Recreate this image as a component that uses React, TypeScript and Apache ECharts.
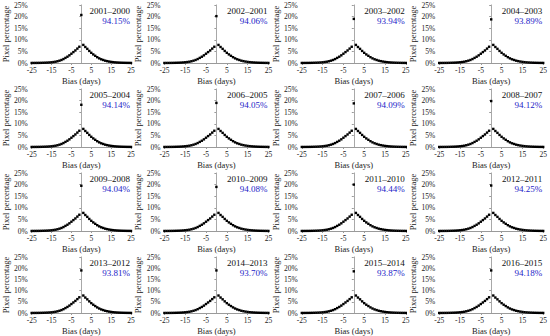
import React, { useEffect, useRef } from "react";
import * as echarts from "echarts";

const periods = [
  "2001–2000", "2002–2001", "2003–2002", "2004–2003",
  "2005–2004", "2006–2005", "2007–2006", "2008–2007",
  "2009–2008", "2010–2009", "2011–2010", "2012–2011",
  "2013–2012", "2014–2013", "2015–2014", "2016–2015",
];
const accuracy = [
  "94.15%", "94.06%", "93.94%", "93.89%",
  "94.14%", "94.05%", "94.09%", "94.12%",
  "94.04%", "94.08%", "94.44%", "94.25%",
  "93.81%", "93.70%", "93.87%", "94.18%",
];
// value at bias 0 (the spike) per panel, in %
const zeroBias = [
  20.7, 20.2, 19.0, 18.8,
  18.2, 19.0, 18.8, 19.8,
  19.5, 19.0, 20.0, 19.6,
  19.0, 19.0, 18.6, 19.0,
];
const biasDays = [
  -25, -24, -23, -22, -21, -20, -19, -18, -17, -16, -15, -14, -13, -12, -11,
  -10, -9, -8, -7, -6, -5, -4, -3, -2, -1, 0,
  1, 2, 3, 4, 5, 6, 7, 8, 9, 10, 11, 12, 13, 14, 15,
  16, 17, 18, 19, 20, 21, 22, 23, 24, 25,
];
// bias -25 .. -1
const leftTail = [
  0.02, 0.02, 0.03, 0.04, 0.05, 0.07, 0.1, 0.13, 0.17, 0.23, 0.31, 0.42, 0.55,
  0.75, 1.0, 1.3, 1.7, 2.2, 2.7, 3.3, 4.0, 4.7, 5.4, 6.2, 7.0,
];
// bias 1 .. 25
const rightTail = [
  7.8, 6.9, 6.1, 5.2, 4.4, 3.7, 3.1, 2.5, 2.0, 1.6, 1.3, 1.0, 0.8, 0.62, 0.48,
  0.37, 0.28, 0.21, 0.16, 0.12, 0.09, 0.07, 0.05, 0.04, 0.03,
];
const xTicks = [-25, 25, 10];
const yTicks = [0, 25, 5];

const COLS = 4;
const GRID_LEFT = 27;
const COL_STEP = 137.4;
const GRID_W = 104;
const GRID_TOP = 5;
const ROW_STEP = 84;
const GRID_H = 58;
const SERIF = "'Liberation Serif', 'Times New Roman', serif";

export default function App() {
  const ref = useRef<HTMLDivElement>(null);
  useEffect(() => {
    if (!ref.current) return;
    const chart = echarts.init(ref.current, undefined, { renderer: "svg" });
    const grids: any[] = [];
    const xAxes: any[] = [];
    const yAxes: any[] = [];
    const series: any[] = [];
    const graphics: any[] = [];
    const axisColor = "#9a9a9a";
    const labelStyle = { fontFamily: SERIF, fontSize: 7.5, color: "#222" };
    periods.forEach((p, i) => {
      const r = Math.floor(i / COLS);
      const c = i % COLS;
      const left = GRID_LEFT + COL_STEP * c;
      const top = GRID_TOP + ROW_STEP * r;
      grids.push({ left, top, width: GRID_W, height: GRID_H });
      xAxes.push({
        type: "value",
        gridIndex: i,
        min: xTicks[0],
        max: xTicks[1],
        interval: xTicks[2],
        name: "Bias (days)",
        nameLocation: "middle",
        nameGap: 13,
        nameTextStyle: { fontFamily: SERIF, fontSize: 8.5, color: "#222" },
        axisLine: { onZero: false, lineStyle: { color: axisColor, width: 1 } },
        axisTick: { show: true, length: 2, lineStyle: { color: axisColor } },
        axisLabel: { ...labelStyle, margin: 3 },
        splitLine: { show: false },
      });
      yAxes.push({
        type: "value",
        gridIndex: i,
        min: yTicks[0],
        max: yTicks[1],
        interval: yTicks[2],
        name: "Pixel percentage",
        nameLocation: "middle",
        nameGap: 18,
        nameTextStyle: { fontFamily: SERIF, fontSize: 8.5, color: "#222" },
        axisLine: { show: true, lineStyle: { color: axisColor, width: 1 } },
        axisTick: { show: true, length: 2, lineStyle: { color: axisColor } },
        axisLabel: { ...labelStyle, margin: 4, formatter: "{value}%" },
        splitLine: { show: false },
      });
      const values = [...leftTail, zeroBias[i], ...rightTail];
      series.push({
        type: "scatter",
        xAxisIndex: i,
        yAxisIndex: i,
        symbol: "rect",
        symbolSize: 2.4,
        itemStyle: { color: "#000", opacity: 1 },
        data: biasDays.map((d, k) => [d, values[k]]),
        markLine: {
          silent: true,
          symbol: "none",
          label: { show: false },
          lineStyle: { color: "#a8a8a8", width: 1, type: "solid" },
          data: [{ xAxis: 0 }],
          z: 1,
        },
        z: 3,
      });
      graphics.push({
        type: "text",
        right: 550 - (left + GRID_W) + 1,
        top: top + 1,
        style: {
          text: p,
          fontFamily: SERIF,
          fontSize: 9,
          fill: "#111",
          textAlign: "right",
        },
      });
      graphics.push({
        type: "text",
        right: 550 - (left + GRID_W) + 1,
        top: top + 11.5,
        style: {
          text: accuracy[i],
          fontFamily: SERIF,
          fontSize: 9,
          fill: "#2323c8",
          textAlign: "right",
        },
      });
    });
    chart.setOption({
      animation: false,
      backgroundColor: "#fff",
      grid: grids,
      xAxis: xAxes,
      yAxis: yAxes,
      series,
      graphic: graphics,
    });
    return () => chart.dispose();
  }, []);
  return <div ref={ref} style={{ width: 550, height: 336, position: "absolute", left: 0, top: 0 }} />;
}
